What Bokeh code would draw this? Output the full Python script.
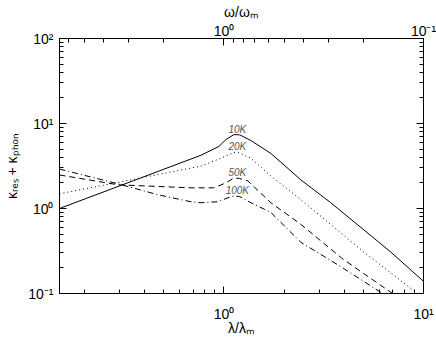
from bokeh.plotting import figure
from bokeh.models import Range1d, LogAxis, CustomJSTickFormatter, ColumnDataSource, FixedTicker
from bokeh.core.properties import value
from bokeh.embed import file_html
from bokeh.resources import INLINE

# ---- data ----
x_10k = [0.15, 0.767, 0.944, 1.023, 1.122, 1.20, 1.365, 1.718, 2.43, 3.43, 6.84, 10.0]
y_10k = [1.0, 4.23, 5.37, 6.47, 7.40, 7.35, 6.30, 4.45, 2.17, 1.17, 0.309, 0.139]

x_20k = [0.15, 0.684, 0.767, 0.966, 1.122, 1.20, 1.365, 1.718, 2.43, 5.01, 9.33, 10.0]
y_20k = [1.49, 2.99, 3.15, 3.90, 4.58, 4.50, 3.90, 2.41, 1.27, 0.309, 0.10, 0.088]

x_50k = [0.15, 0.295, 0.684, 0.891, 1.023, 1.122, 1.20, 1.318, 1.718, 2.43, 3.98, 7.0, 10.0]
y_50k = [2.48, 1.90, 1.75, 1.75, 2.00, 2.29, 2.25, 2.11, 1.17, 0.65, 0.25, 0.10, 0.0565]

x_100k = [0.15, 0.295, 0.468, 0.684, 0.767, 0.933, 1.023, 1.122, 1.20, 1.365, 1.718, 2.43, 3.85, 6.24, 10.0]
y_100k = [2.91, 1.95, 1.45, 1.20, 1.17, 1.20, 1.31, 1.41, 1.38, 1.17, 0.90, 0.40, 0.207, 0.10, 0.049]

labels = ["10K", "20K", "50K", "100K"]
dashes = ["solid", "1 3", "6 4", "6 3 1 3"]

major_ticks = [0.01, 0.1, 1, 10, 100]

x_title = "\u03bb/\u03bb\u2098"
top_title = "\u03c9/\u03c9\u2098"
y_title = "\u03ba\u1d63\u2091\u209b + \u03ba\u209a\u2095\u2092\u2099"

FONT = "Liberation Sans"

sup_code = """
const e = Math.round(Math.log10(tick));
const sup = {'-':'\u207b','0':'\u2070','1':'\u00b9','2':'\u00b2','3':'\u00b3','4':'\u2074','5':'\u2075','6':'\u2076','7':'\u2077','8':'\u2078','9':'\u2079'};
return '10' + String(e).split('').map(c => sup[c]).join('');
"""

minor_ticks = [m * d for d in major_ticks[:-1] for m in range(2, 10)]

p = figure(width=436, height=338, x_axis_type="log", y_axis_type="log",
           x_range=Range1d(0.15, 10), y_range=Range1d(0.1, 100),
           output_backend="svg", toolbar_location=None,
           min_border_left=59, min_border_top=33, min_border_right=13, min_border_bottom=45)
p.extra_x_ranges = {"top": Range1d(1 / 0.15, 0.1)}

top = LogAxis(x_range_name="top")
p.add_layout(top, "above")
right = LogAxis()
p.add_layout(right, "right")

p.xgrid.visible = False
p.ygrid.visible = False
p.outline_line_color = "black"
p.background_fill_color = "white"
p.border_fill_color = "white"

bottom = p.below[0]
left = p.left[0]

for ax in [bottom, left, top, right]:
    ax.ticker = FixedTicker(ticks=major_ticks, minor_ticks=minor_ticks)
    ax.major_tick_in = 7
    ax.major_tick_out = 0
    ax.minor_tick_in = 4
    ax.minor_tick_out = 0
    ax.axis_line_color = "black"
    ax.major_tick_line_color = "black"
    ax.minor_tick_line_color = "black"
    ax.major_label_text_font = FONT
    ax.major_label_text_font_size = "14px"
    ax.major_label_text_color = "black"
    ax.axis_label_text_font = FONT
    ax.axis_label_text_font_size = "14px"
    ax.axis_label_text_font_style = "normal"
    ax.axis_label_text_color = "black"
    ax.formatter = CustomJSTickFormatter(code=sup_code)

bottom.major_label_standoff = 12
bottom.axis_label_standoff = -5
left.major_label_standoff = 6
left.axis_label_standoff = 5
top.major_label_standoff = 0
top.axis_label_standoff = 0
right.formatter = CustomJSTickFormatter(code="return '';")
right.major_label_standoff = 0
right.major_label_text_font_size = "1px"

bottom.axis_label = x_title
top.axis_label = top_title
left.axis_label = y_title

series = [(x_10k, y_10k), (x_20k, y_20k), (x_50k, y_50k), (x_100k, y_100k)]
for (xs, ys), d in zip(series, dashes):
    p.line(xs, ys, line_color="black", line_width=1, line_dash=d)

# curve labels at the local maximum near lambda/lambda_m ~ 1
lx, ly = [], []
for xs, ys in series:
    cand = [(y, x) for x, y in zip(xs, ys) if x > 0.8]
    yb, xb = max(cand)
    lx.append(xb * 1.04)
    ly.append(yb)
src = ColumnDataSource(dict(x=lx, y=ly, t=labels))
p.text("x", "y", text="t", source=src, text_font=value(FONT), text_font_size="10px",
       text_font_style="italic", text_color="#555555", text_align="center",
       text_baseline="bottom")

open("out.html", "w").write(file_html(p, INLINE))
